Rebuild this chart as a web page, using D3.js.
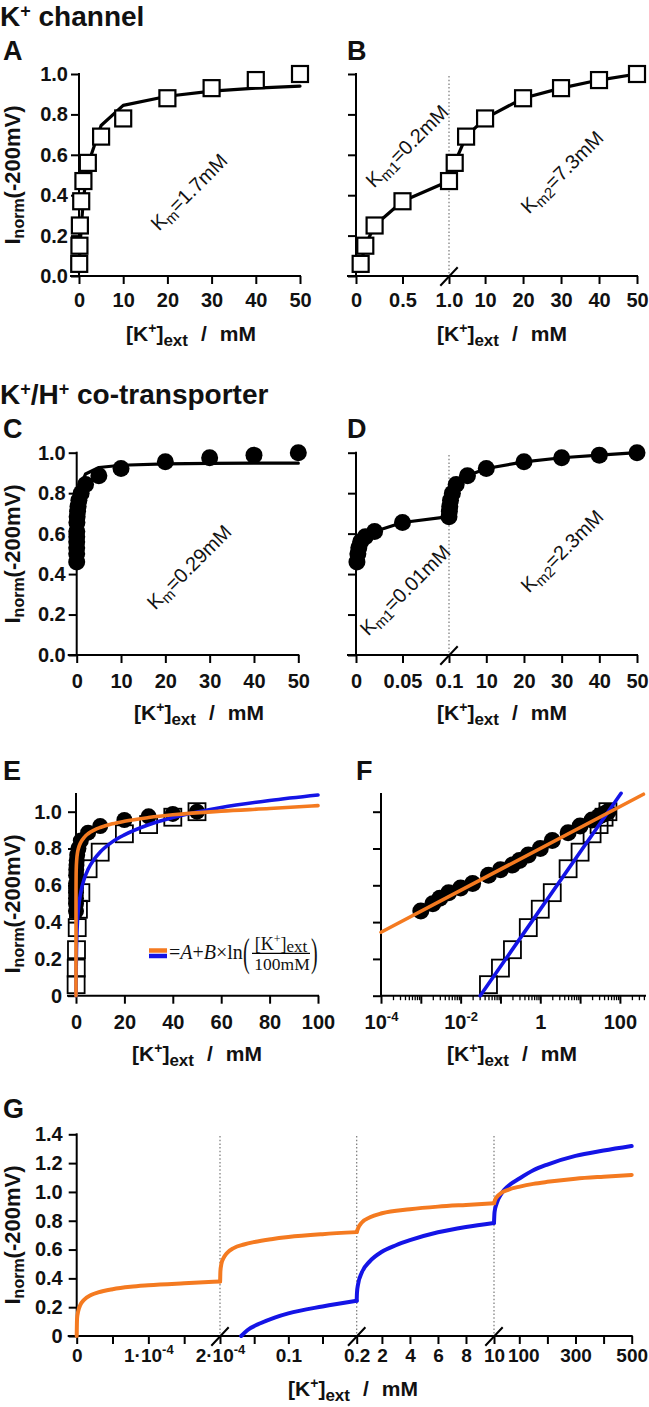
<!DOCTYPE html>
<html><head><meta charset="utf-8">
<script src="https://cdn.jsdelivr.net/npm/d3@7"></script>
<style>
body{margin:0;background:#fff;}
svg{display:block;}
</style></head><body>
<script>
// ================= DATA =================
// K+ channel (squares)
const kChanX = [0.05, 0.1, 0.2, 0.5, 1, 2, 5, 10, 20, 30, 40, 50];
const kChanY = [0.06, 0.15, 0.25, 0.37, 0.47, 0.56, 0.69, 0.78, 0.88, 0.93, 0.97, 1.0];
// K+ channel single-Km fit line (panel A)
const kFitX = [0, 0.05, 0.1, 0.2, 0.5, 1, 2, 5, 10, 20, 30, 40, 50];
const kFitY = [0.02, 0.05, 0.08, 0.13, 0.24, 0.38, 0.55, 0.745, 0.845, 0.89, 0.915, 0.93, 0.94];
// K+/H+ co-transporter (circles)
const coX = [0.001, 0.002, 0.003, 0.005, 0.01, 0.02, 0.05, 0.1, 0.2, 0.3, 0.5, 1, 2, 5, 10, 20, 30, 40, 50];
const coY = [0.46, 0.50, 0.53, 0.56, 0.585, 0.61, 0.655, 0.684, 0.71, 0.735, 0.765, 0.80, 0.843, 0.886, 0.922, 0.955, 0.975, 0.988, 1.0];
// co-transporter single-Km fit line (panel C)
const coFitX = [0, 0.01, 0.02, 0.05, 0.1, 0.2, 0.5, 1, 2, 5, 10, 20, 30, 40, 50];
const coFitY = [0.45, 0.47, 0.49, 0.53, 0.58, 0.66, 0.77, 0.84, 0.895, 0.927, 0.938, 0.945, 0.947, 0.948, 0.948];
// Panel E log fits on a linear axis
const eOrangeX = [1e-7, 1e-4, 0.001, 0.01, 0.1, 0.3, 0.6, 1, 2, 3.5, 5, 7.5, 10, 15, 20, 30, 40, 60, 80, 100];
const eOrangeY = [0, 0.345, 0.459, 0.573, 0.687, 0.74, 0.775, 0.80, 0.834, 0.862, 0.88, 0.90, 0.914, 0.934, 0.948, 0.968, 0.983, 1.003, 1.017, 1.033];
const eBlueX = [0.031, 0.05, 0.1, 0.2, 0.5, 1, 2, 3.5, 5, 7.5, 10, 15, 20, 30, 40, 60, 80, 100];
const eBlueY = [0, 0.065, 0.159, 0.252, 0.376, 0.47, 0.563, 0.639, 0.687, 0.742, 0.781, 0.836, 0.874, 0.929, 0.968, 1.023, 1.061, 1.091];
// Panel F straight lines on log axis (end points)
const fOrangeX = [1e-4, 390], fOrangeY = [0.345, 1.095];
const fBlueX = [0.031, 107], fBlueY = [0, 1.10];
// Panel G curves per broken-axis segment
const gOrangeX1 = [0, 5e-7, 2e-6, 5e-6, 1e-5, 2e-5, 3e-5, 5e-5, 7.5e-5, 1e-4, 1.5e-4, 2e-4];
const gOrangeY1 = [0, 0.12, 0.17, 0.215, 0.25, 0.285, 0.303, 0.325, 0.342, 0.352, 0.366, 0.378];
const gOrangeX2 = [2e-4, 0.0006, 0.002, 0.005, 0.01, 0.02, 0.035, 0.05, 0.075, 0.1, 0.15, 0.2];
const gOrangeY2 = [0.378, 0.45, 0.50, 0.54, 0.575, 0.61, 0.635, 0.652, 0.672, 0.687, 0.707, 0.721];
const gOrangeX3 = [0.2, 0.3, 0.56, 1.15, 2, 4, 6, 8, 10];
const gOrangeY3 = [0.722, 0.748, 0.787, 0.824, 0.852, 0.88, 0.898, 0.91, 0.921];
const gOrangeX4 = [10, 15, 20, 37, 60, 102, 150, 200, 300, 400, 500];
const gOrangeY4 = [0.921, 0.95, 0.965, 0.995, 1.015, 1.037, 1.056, 1.07, 1.092, 1.106, 1.118];
const gBlueX2 = [0.031, 0.04, 0.06, 0.08, 0.1, 0.15, 0.2];
const gBlueY2 = [0, 0.04, 0.09, 0.128, 0.157, 0.205, 0.245];
const gBlueX3 = [0.2, 0.22, 0.3, 0.56, 1.15, 2, 3, 4, 6, 8, 10];
const gBlueY3 = [0.245, 0.30, 0.36, 0.44, 0.52, 0.585, 0.63, 0.665, 0.72, 0.757, 0.785];
const gBlueX4 = [10, 12, 19.5, 37, 60, 102, 150, 200, 300, 400, 500];
const gBlueY4 = [0.785, 0.86, 0.92, 0.99, 1.04, 1.095, 1.15, 1.19, 1.25, 1.287, 1.319];
// tick values
const unitTicks = [0, 0.2, 0.4, 0.6, 0.8, 1.0];
const gYTicks = [0, 0.2, 0.4, 0.6, 0.8, 1.0, 1.2, 1.4];
const lin50Ticks = [0, 10, 20, 30, 40, 50];
const seg50Ticks = [10, 20, 30, 40, 50];
const eXTicks = [0, 20, 40, 60, 80, 100];

// ================= SETUP =================
const W = 649, H = 1407;
const FONT = '"Liberation Sans", Arial, Helvetica, sans-serif';
const SERIF = '"Liberation Serif", "Times New Roman", serif';
const ORANGE = "#f47a20", BLUE = "#1414e6", INK = "#111";
const svg = d3.select("body").append("svg").attr("width", W).attr("height", H)
  .attr("font-family", FONT);

const zip = (xs, ys) => xs.map((x, i) => [x, ys[i]]);

function line(x1, y1, x2, y2, w = 2, col = "#000") {
  return svg.append("line").attr("x1", x1).attr("y1", y1).attr("x2", x2).attr("y2", y2)
    .attr("stroke", col).attr("stroke-width", w).attr("stroke-linecap", "square");
}
function styleAxis(g, fs = 20) {
  g.select(".domain").remove();
  g.selectAll(".tick line").attr("stroke", "#000").attr("stroke-width", 2);
  g.selectAll(".tick text").attr("font-family", FONT).attr("font-weight", "bold")
    .attr("font-size", fs).attr("fill", INK);
}
function yAxis(scale, x, ticks, fmt, pad, top) {
  const ax = d3.axisLeft(scale).tickValues(ticks).tickSize(8).tickPadding(pad)
    .tickFormat(fmt || (() => ""));
  const g = svg.append("g").attr("transform", `translate(${x},0)`).call(ax);
  styleAxis(g);
  line(x, top !== undefined ? top : scale.range()[1], x, scale.range()[0]);
}
function xAxis(scale, y, ticks, fmt, pad, size = 8, fs = 20) {
  const ax = d3.axisBottom(scale).tickValues(ticks).tickSize(size).tickPadding(pad)
    .tickFormat(fmt || (() => ""));
  const g = svg.append("g").attr("transform", `translate(0,${y})`).call(ax);
  styleAxis(g, fs);
  return g;
}
function richLabels(g, map) {
  g.selectAll(".tick text").each(function (d) {
    const parts = map(d);
    const t = d3.select(this).text(null);
    if (!parts) return;
    t.append("tspan").text(parts[0]);
    if (parts[1]) t.append("tspan").attr("font-size", 13).attr("dy", -8).text(parts[1]);
  });
}
function xTitle(cx, by) {
  const t = svg.append("text").attr("x", cx).attr("y", by).attr("text-anchor", "middle")
    .attr("font-weight", "bold").attr("font-size", 21).attr("fill", INK);
  t.append("tspan").text("[K");
  t.append("tspan").attr("font-size", 14).attr("dy", -8).text("+");
  t.append("tspan").attr("dy", 8).text("]");
  t.append("tspan").attr("font-size", 17).attr("dy", 5).text("ext");
  t.append("tspan").attr("dy", -5).attr("dx", 13).text("/");
  t.append("tspan").attr("dx", 13).text("mM");
}
function yTitle(cx, cy) {
  const t = svg.append("text").attr("transform", `translate(${cx},${cy}) rotate(-90)`)
    .attr("text-anchor", "middle").attr("font-weight", "bold").attr("font-size", 22).attr("fill", INK);
  t.append("tspan").text("I");
  t.append("tspan").attr("font-size", 16).attr("dy", 4).text("norm");
  t.append("tspan").attr("dy", -4).text("(-200mV)");
}
function letter(txt, x, y) {
  svg.append("text").attr("x", x).attr("y", y).attr("font-weight", "bold").attr("font-size", 27)
    .attr("fill", INK).text(txt);
}
function kmLabel(cx, cy, sub, rest) {
  const t = svg.append("text").attr("transform", `translate(${cx},${cy}) rotate(-45)`)
    .attr("text-anchor", "middle").attr("font-size", 20).attr("y", 7).attr("fill", INK);
  t.append("tspan").text("K");
  t.append("tspan").attr("font-size", 15).attr("dy", 4).text(sub);
  t.append("tspan").attr("dy", -4).text(rest);
}
function dotted(x, y1, y2) {
  svg.append("line").attr("x1", x).attr("x2", x).attr("y1", y1).attr("y2", y2)
    .attr("stroke", "#777").attr("stroke-width", 1.2).attr("stroke-dasharray", "1.5,2.2");
}
function breakMark(x, y) { line(x - 8, y + 9, x + 8, y - 8, 2); }
function squares(pts, size, sw, fill) {
  svg.append("g").selectAll("rect").data(pts).join("rect")
    .attr("x", d => d[0] - size / 2).attr("y", d => d[1] - size / 2)
    .attr("width", size).attr("height", size)
    .attr("fill", fill).attr("stroke", "#000").attr("stroke-width", sw);
}
function circles(pts, r) {
  svg.append("g").selectAll("circle").data(pts).join("circle")
    .attr("cx", d => d[0]).attr("cy", d => d[1]).attr("r", r).attr("fill", "#000");
}
function path(pts, col, w, curve) {
  svg.append("path").attr("d", d3.line().curve(curve || d3.curveLinear)(pts))
    .attr("fill", "none").attr("stroke", col).attr("stroke-width", w)
    .attr("stroke-linejoin", "round").attr("stroke-linecap", "round");
}
const f1 = d3.format(".1f");
const f0 = d => d === 0 ? "0" : d3.format(".1f")(d);

// ================= SECTION TITLES =================
function sectionTitle(y, parts) {
  const t = svg.append("text").attr("x", 0).attr("y", y).attr("font-weight", "bold")
    .attr("font-size", 28).attr("fill", INK);
  parts.forEach(p => {
    const s = t.append("tspan").text(p[0]);
    if (p[1] === "sup") s.attr("font-size", 18).attr("dy", -9);
    if (p[1] === "base") s.attr("dy", 9);
  });
}
sectionTitle(26, [["K"], ["+", "sup"], [" channel", "base"]]);
sectionTitle(404, [["K"], ["+", "sup"], ["/H", "base"], ["+", "sup"], [" co-transporter", "base"]]);

// ================= PANEL A =================
letter("A", 3, 60);
const xA = d3.scaleLinear().domain([0, 50]).range([79, 300]);
const yA = d3.scaleLinear().domain([0, 1]).range([276, 74]);
yAxis(yA, 79, unitTicks, f1, 3);
line(71, 276, 300, 276);
xAxis(xA, 276, lin50Ticks, d3.format("d"), 9);
path(zip(kFitX, kFitY).map(d => [xA(d[0]), yA(d[1])]), "#000", 3.2);
squares(zip(kChanX, kChanY).map(d => [xA(d[0]), yA(d[1])]), 16, 2.2, "#fff");
kmLabel(189, 192, "m", "=1.7mM");
xTitle(191, 341);
yTitle(20, 175);

// ================= PANEL B =================
letter("B", 347, 60);
const xB1 = d3.scaleLinear().domain([0, 1]).range([356, 449]);
const xB2 = d3.scaleLinear().domain([0.5, 50]).range([449, 637]);
const bx = x => x <= 1 ? xB1(x) : xB2(x);
yAxis(yA, 356, unitTicks, null, 3);
line(348, 276, 637, 276);
xAxis(xB1, 276, [0, 0.5, 1], d => d === 0 ? "0" : f1(d), 9);
xAxis(xB2, 276, seg50Ticks, d3.format("d"), 9);
dotted(449, 76, 276);
breakMark(449, 276);
const bPts = zip(kChanX, kChanY).map(d => [bx(d[0]), yA(d[1])]);
path(bPts, "#000", 3.2);
squares(bPts, 16, 2.2, "#fff");
kmLabel(407, 146, "m1", "=0.2mM");
kmLabel(562, 172, "m2", "=7.3mM");
xTitle(502, 341);

// ================= PANEL C =================
letter("C", 3, 438);
const xC = d3.scaleLinear().domain([0, 50]).range([76.7, 298.3]);
const yC = d3.scaleLinear().domain([0, 1]).range([655, 452.7]);
yAxis(yC, 76.7, unitTicks, f1, 3);
line(68.7, 655, 298.3, 655);
xAxis(xC, 655, lin50Ticks, d3.format("d"), 11);
path(zip(coFitX, coFitY).map(d => [xC(d[0]), yC(d[1])]), "#000", 3.2);
circles(zip(coX, coY).map(d => [xC(d[0]), yC(d[1])]), 8.5);
kmLabel(189, 567, "m", "=0.29mM");
xTitle(199, 720);
yTitle(20, 554);

// ================= PANEL D =================
letter("D", 347, 438);
const xD1 = d3.scaleLinear().domain([0, 0.1]).range([356, 449]);
const xD2 = d3.scaleLinear().domain([0.1, 50]).range([449, 637]);
const dx = x => x <= 0.1 ? xD1(x) : xD2(x);
yAxis(yC, 356, unitTicks, null, 3);
line(348, 655, 637, 655);
xAxis(xD1, 655, [0, 0.05, 0.1], d => d === 0 ? "0" : String(d), 11);
xAxis(xD2, 655, seg50Ticks, d3.format("d"), 11);
dotted(449, 455, 655);
breakMark(449, 655);
const dPts = zip(coX, coY).map(d => [dx(d[0]), yC(d[1])]);
path(dPts, "#000", 3.2);
circles(dPts, 8.5);
kmLabel(405, 590, "m1", "=0.01mM");
kmLabel(562, 551, "m2", "=2.3mM");
xTitle(502, 720);

// ================= PANEL E =================
letter("E", 3, 780);
const xE = d3.scaleLinear().domain([0, 100]).range([76, 318]);
const yE = d3.scaleLinear().domain([0, 1]).range([995.7, 811.7]);
yAxis(yE, 76, unitTicks, f0, 6, 794);
line(68, 995.7, 318, 995.7);
xAxis(xE, 995.7, eXTicks, d3.format("d"), 11);
squares(zip(kChanX, kChanY).map(d => [xE(d[0]), yE(d[1])]), 17, 1.8, "none");
circles(zip(coX, coY).map(d => [xE(d[0]), yE(d[1])]), 8);
path(zip(eBlueX, eBlueY).map(d => [xE(d[0]), yE(d[1])]), BLUE, 3.6, d3.curveMonotoneX);
path(zip(eOrangeX, eOrangeY).map(d => [xE(d[0]), yE(d[1])]), ORANGE, 3.6, d3.curveMonotoneX);
// legend
line(149, 950.5, 167, 950.5, 4.5, ORANGE).attr("stroke-linecap", "butt");
line(149, 956, 167, 956, 4.5, BLUE).attr("stroke-linecap", "butt");
{
  const t = svg.append("text").attr("x", 169).attr("y", 959).attr("font-family", SERIF)
    .attr("font-size", 20).attr("fill", INK);
  t.append("tspan").text("=");
  t.append("tspan").attr("font-style", "italic").text("A");
  t.append("tspan").text("+");
  t.append("tspan").attr("font-style", "italic").text("B");
  t.append("tspan").text("×ln");
  svg.append("text").attr("transform", "translate(243,966) scale(0.5,1)").attr("font-family", SERIF)
    .attr("font-size", 40).attr("fill", INK).text("(");
  svg.append("text").attr("transform", "translate(311,966) scale(0.5,1)").attr("font-family", SERIF)
    .attr("font-size", 40).attr("fill", INK).text(")");
  const n = svg.append("text").attr("x", 281).attr("y", 950).attr("text-anchor", "middle")
    .attr("font-family", SERIF).attr("font-size", 18).attr("fill", INK);
  n.append("tspan").text("[K");
  n.append("tspan").attr("font-size", 12).attr("dy", -7).text("+");
  n.append("tspan").attr("dy", 7).text("]");
  n.append("tspan").attr("font-size", 17).attr("dy", 2).text("ext");
  line(252, 953.3, 310, 953.3, 1.2).attr("stroke-linecap", "butt");
  svg.append("text").attr("x", 282).attr("y", 969.5).attr("text-anchor", "middle")
    .attr("font-family", SERIF).attr("font-size", 17.5).attr("fill", INK).text("100mM");
}
xTitle(197, 1061);
yTitle(20, 904);

// ================= PANEL F =================
letter("F", 356, 780);
const xF = d3.scaleLog().domain([1e-4, Math.pow(10, 2.63)]).range([381, 645]);
yAxis(yE, 381, unitTicks, null, 3, 794);
line(381, 995.7, 645, 995.7);
const fMajor = [1e-4, 1e-3, 1e-2, 1e-1, 1, 10, 100];
const fMinor = [];
[-4, -3, -2, -1, 0, 1, 2].forEach(e => { for (let k = 2; k <= 9; k++) { const v = k * Math.pow(10, e); if (v < 426) fMinor.push(v); } });
xAxis(xF, 995.7, fMinor, null, 0, 4.5).selectAll(".tick line").attr("stroke-width", 1.3);
const fLabels = new Map([[1e-4, ["10", "-4"]], [1e-2, ["10", "-2"]], [1, ["1"]], [100, ["100"]]]);
const gF = xAxis(xF, 995.7, fMajor, d => "x", 11);
richLabels(gF, d => { for (const [k, v] of fLabels) if (Math.abs(Math.log10(k) - Math.log10(d)) < 1e-6) return v; return null; });
squares(zip(kChanX, kChanY).map(d => [xF(d[0]), yE(d[1])]), 17, 1.8, "none");
circles(zip(coX, coY).map(d => [xF(d[0]), yE(d[1])]), 8.5);
path(zip(fBlueX, fBlueY).map(d => [xF(d[0]), yE(d[1])]), BLUE, 3.6);
path(zip(fOrangeX, fOrangeY).map(d => [xF(d[0]), yE(d[1])]), ORANGE, 3.6);
xTitle(512, 1061);

// ================= PANEL G =================
letter("G", 3, 1118);
const yG = d3.scaleLinear().domain([0, 1.4]).range([1336, 1134.3]);
const xG1 = d3.scaleLinear().domain([0, 2e-4]).range([76.7, 220]);
const xG2 = d3.scaleLinear().domain([0, 0.2]).range([220, 356.7]);
const xG3 = d3.scaleLinear().domain([0.2, 10]).range([356.7, 494]);
const xG4 = d3.scaleLinear().domain([10, 500]).range([494, 631.7]);
yAxis(yG, 76.7, gYTicks, f0, 6);
line(68.7, 1336, 631.7, 1336);
const gl1 = xAxis(xG1, 1336, [0, 5e-5, 1e-4, 1.5e-4, 2e-4], d => "x", 5, 8, 19);
richLabels(gl1, d => d === 0 ? ["0"] : Math.abs(d - 1e-4) < 1e-9 ? ["1·10", "-4"] : Math.abs(d - 2e-4) < 1e-9 ? ["2·10", "-4"] : null);
const gl2 = xAxis(xG2, 1336, [0.05, 0.1, 0.15, 0.2], d => "x", 5, 8, 19);
richLabels(gl2, d => Math.abs(d - 0.1) < 1e-9 ? ["0.1"] : Math.abs(d - 0.2) < 1e-9 ? ["0.2"] : null);
xAxis(xG3, 1336, [2, 4, 6, 8, 10], d3.format("d"), 5, 8, 19);
const gl4 = xAxis(xG4, 1336, [100, 200, 300, 400, 500], d => "x", 5, 8, 19);
richLabels(gl4, d => (d === 100 || d === 300 || d === 500) ? [String(d)] : null);
gl4.selectAll(".tick text").filter(d => d === 100).attr("dx", 4);
[220, 356.7, 494].forEach(x => { dotted(x, 1136, 1336); breakMark(x, 1336); });
const gO = [[gOrangeX1, gOrangeY1, xG1], [gOrangeX2, gOrangeY2, xG2], [gOrangeX3, gOrangeY3, xG3], [gOrangeX4, gOrangeY4, xG4]];
const gB = [[gBlueX2, gBlueY2, xG2], [gBlueX3, gBlueY3, xG3], [gBlueX4, gBlueY4, xG4]];
gB.forEach(([xs, ys, sc]) => path(zip(xs, ys).map(d => [sc(d[0]), yG(d[1])]), BLUE, 4, d3.curveMonotoneX));
gO.forEach(([xs, ys, sc]) => path(zip(xs, ys).map(d => [sc(d[0]), yG(d[1])]), ORANGE, 4, d3.curveMonotoneX));
xTitle(353, 1396);
yTitle(20, 1235);
</script>
</body></html>
